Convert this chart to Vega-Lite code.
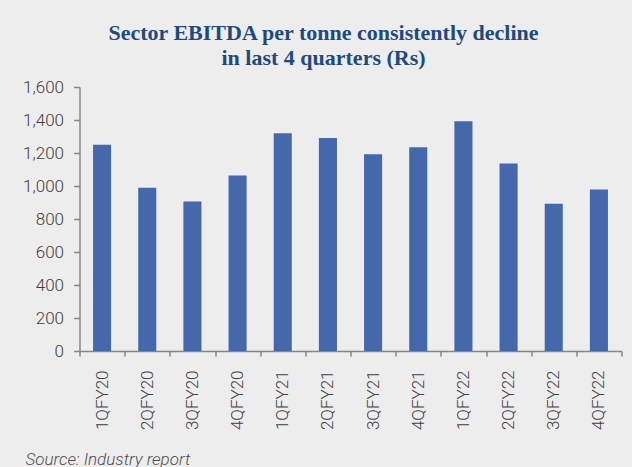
{
  "$schema": "https://vega.github.io/schema/vega-lite/v6.json",
  "autosize": {"type": "none"},
  "width": 542,
  "height": 264,
  "padding": {"left": 79.5, "top": 87, "right": 10.5, "bottom": 116},
  "background": "#EDEDED",
  "config": {"view": {"stroke": null}},
  "title": {
    "text": ["Sector EBITDA per tonne consistently decline", "in last 4 quarters (Rs)"],
    "font": "Liberation Serif",
    "fontWeight": "bold",
    "fontSize": 22,
    "color": "#1E4A7F",
    "anchor": "middle",
    "dx": -27,
    "lineHeight": 25,
    "offset": 8
  },
  "data": {
    "values": [
      {"quarter": "1QFY20", "ebitda": 1250},
      {"quarter": "2QFY20", "ebitda": 990},
      {"quarter": "3QFY20", "ebitda": 906},
      {"quarter": "4QFY20", "ebitda": 1064},
      {"quarter": "1QFY21", "ebitda": 1320},
      {"quarter": "2QFY21", "ebitda": 1291},
      {"quarter": "3QFY21", "ebitda": 1193},
      {"quarter": "4QFY21", "ebitda": 1235},
      {"quarter": "1QFY22", "ebitda": 1392},
      {"quarter": "2QFY22", "ebitda": 1136},
      {"quarter": "3QFY22", "ebitda": 892},
      {"quarter": "4QFY22", "ebitda": 979}
    ]
  },
  "mark": {"type": "bar", "color": "#4468AB", "width": {"band": 0.4}},
  "encoding": {
    "x": {
      "field": "quarter",
      "type": "nominal",
      "sort": null,
      "scale": {"paddingInner": 0, "paddingOuter": 0},
      "axis": {
        "title": "Source: Industry report",
        "titleX": -54.5,
        "titleY": 113,
        "titleAlign": "left",
        "titleAnchor": "start",
        "titleBaseline": "alphabetic",
        "titleFont": "Roboto",
        "titleFontStyle": "italic",
        "titleFontWeight": 300,
        "titleFontSize": 17,
        "titleColor": "#4D4D4D",
        "labelAngle": -90,
        "labelFont": "Roboto",
        "labelFontSize": 17,
        "labelFontWeight": 300,
        "labelColor": "#404040",
        "labelPadding": 14,
        "tickBand": "extent",
        "tickSize": 5,
        "tickColor": "#868686",
        "domainColor": "#868686",
        "domainWidth": 1.5,
        "tickWidth": 1.5
      }
    },
    "y": {
      "field": "ebitda",
      "type": "quantitative",
      "scale": {"domain": [0, 1600], "nice": false},
      "axis": {
        "title": null,
        "values": [0, 200, 400, 600, 800, 1000, 1200, 1400, 1600],
        "format": ",.0f",
        "grid": false,
        "labelFont": "Roboto",
        "labelFontSize": 17,
        "labelFontWeight": 300,
        "labelColor": "#404040",
        "labelPadding": 10,
        "tickSize": 6,
        "tickColor": "#868686",
        "domainColor": "#868686",
        "domainWidth": 1.5,
        "tickWidth": 1.5
      }
    }
  }
}
